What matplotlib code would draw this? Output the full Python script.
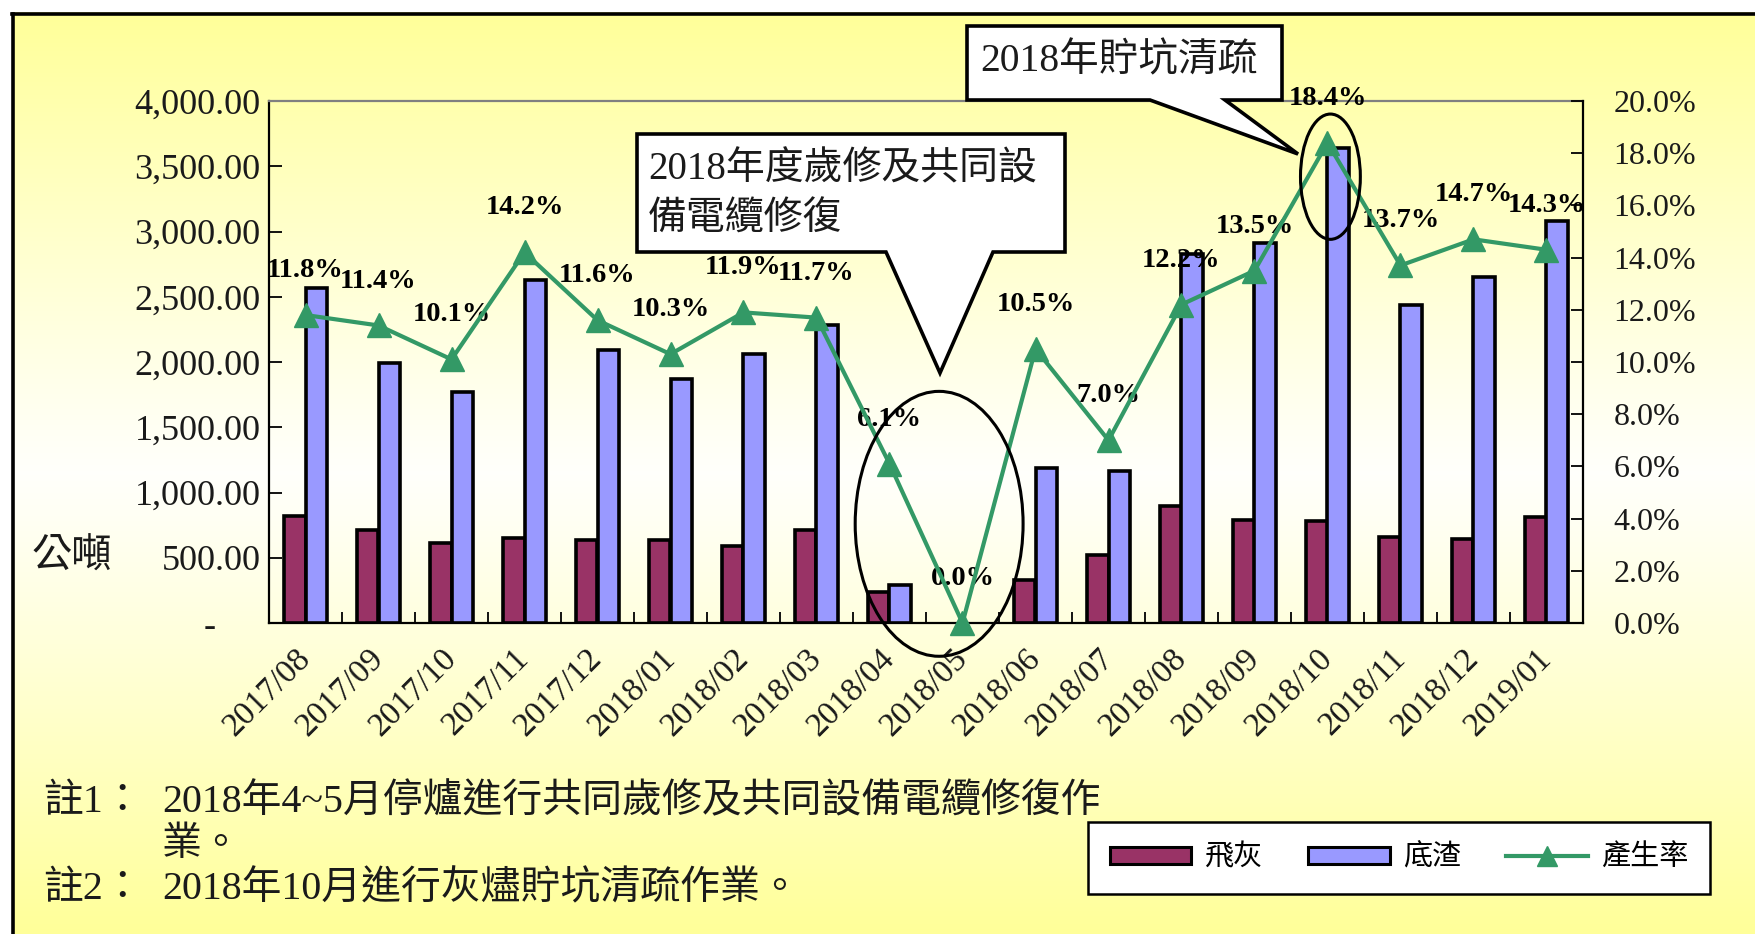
import matplotlib
matplotlib.use("Agg")
import matplotlib.pyplot as plt
import numpy as np
from matplotlib.patches import Polygon, Ellipse, Patch
from matplotlib.lines import Line2D
from matplotlib.ticker import FixedLocator, FuncFormatter

plt.rcParams['font.family'] = ['Liberation Serif', 'Noto Sans CJK TC']

# ---------------- data ----------------
months = ["2017/08", "2017/09", "2017/10", "2017/11", "2017/12", "2018/01",
          "2018/02", "2018/03", "2018/04", "2018/05", "2018/06", "2018/07",
          "2018/08", "2018/09", "2018/10", "2018/11", "2018/12", "2019/01"]
fly_ash = [817, 714, 611, 652, 639, 639, 593, 714, 237, 0,
           332, 523, 893, 791, 778, 658, 643, 816]
bottom_ash = [2567, 1992, 1769, 2626, 2095, 1872, 2060, 2283, 294, 0,
              1189, 1161, 2824, 2909, 3638, 2438, 2652, 3081]
rate = [11.8, 11.4, 10.1, 14.2, 11.6, 10.3, 11.9, 11.7, 6.1, 0.0,
        10.5, 7.0, 12.2, 13.5, 18.4, 13.7, 14.7, 14.3]
legend_labels = ["飛灰", "底渣", "產生率"]
unit_label = "公噸"
callout1 = "2018年度歲修及共同設\n備電纜修復"
callout2 = "2018年貯坑清疏"
note1_head = "註1："
note1_body = "2018年4~5月停爐進行共同歲修及共同設備電纜修復作"
note1_cont = "業。"
note2_head = "註2："
note2_body = "2018年10月進行灰燼貯坑清疏作業。"

W, H = 1756, 934
C_FLY = "#993366"
C_BOT = "#9999FF"
C_RATE = "#339966"

fig = plt.figure(figsize=(W / 100, H / 100), dpi=100)
fig.patch.set_facecolor("white")


def fx(px):
    return px / W


def fy(py):
    return 1 - py / H


# ---------------- gradient background ----------------
bg = fig.add_axes([fx(12), 0, 1 - fx(12), fy(12)], zorder=-10)
yy = np.linspace(0, 1, 400)[:, None]
t = np.abs(yy - 0.50) / 0.50
t = np.clip(t, 0, 1) ** 1.1
top = np.array([1.0, 1.0, 0.60])
mid = np.array([1.0, 1.0, 0.985])
img = mid[None, None, :] * (1 - t[..., None]) + top[None, None, :] * t[..., None]
img = np.repeat(img, 2, axis=1)
bg.imshow(img, aspect="auto", extent=[0, 1, 0, 1])
bg.set_axis_off()
fig.add_artist(Line2D([fx(13.5), fx(13.5)], [0, fy(13.5)], color="black", lw=2.6,
                      transform=fig.transFigure))
fig.add_artist(Line2D([fx(12), 1], [fy(13.5), fy(13.5)], color="black", lw=2.6,
                      transform=fig.transFigure))

# ---------------- main axes ----------------
ax = fig.add_axes([fx(269), fy(623), fx(1583) - fx(269), fy(101) - fy(623)])
ax.set_facecolor("none")
x = np.arange(len(months))
bw = 0.3
fly_edges = ["black" if v > 0 else "none" for v in fly_ash]
bot_edges = ["black" if v > 0 else "none" for v in bottom_ash]
ax.bar(x - bw / 2, fly_ash, bw, color=C_FLY, edgecolor=fly_edges, linewidth=2.6, zorder=3)
ax.bar(x + bw / 2, bottom_ash, bw, color=C_BOT, edgecolor=bot_edges, linewidth=2.6, zorder=3)
ax.set_xlim(-0.5, len(months) - 0.5)
ax.set_ylim(0, 4000)
ax.yaxis.set_major_locator(FixedLocator(np.arange(0, 4001, 500)))
ax.yaxis.set_major_formatter(FuncFormatter(lambda v, p: "-     " if v == 0 else f"{v:,.2f}"))
ax.tick_params(axis="y", direction="in", length=9, width=1.3, labelsize=26, pad=6,
               colors="black", labelcolor="#1a1a1a")
ax.set_xticks(x)
ax.set_xticklabels(months)
ax.set_xticks(np.arange(-0.5, len(months), 1), minor=True)
ax.tick_params(axis="x", which="major", length=0, labelsize=24, pad=22,
               labelcolor="#1a1a1a")
ax.tick_params(axis="x", which="minor", direction="in", length=8, width=1.3)
for lbl in ax.get_xticklabels():
    lbl.set_rotation(45)
    lbl.set_ha("right")
    lbl.set_va("center")
    lbl.set_rotation_mode("anchor")
for s in ["left", "bottom"]:
    ax.spines[s].set_color("black")
    ax.spines[s].set_linewidth(1.6)
ax.spines["top"].set_color("#808080")
ax.spines["top"].set_linewidth(1.6)
ax.spines["right"].set_visible(False)

# ---------------- rate axis ----------------
ax2 = ax.twinx()
ax2.set_ylim(0, 20)
ax2.yaxis.set_major_locator(FixedLocator(np.arange(0, 20.1, 2)))
ax2.yaxis.set_major_formatter(FuncFormatter(lambda v, p: f"{v:.1f}%"))
ax2.tick_params(axis="y", direction="in", length=9, width=1.3, labelsize=23, pad=22,
                labelcolor="#1a1a1a")
ax2.spines["right"].set_color("black")
ax2.spines["right"].set_linewidth(1.6)
for s in ["left", "top", "bottom"]:
    ax2.spines[s].set_visible(False)
ax2.plot(x, rate, color=C_RATE, lw=3, marker="^", markersize=17, zorder=5, clip_on=False)
for xi, v in zip(x, rate):
    ax2.annotate(f"{v:.1f}%", (xi, v), xytext=(0, 32), textcoords="offset points",
                 ha="center", va="center", fontsize=20.5, fontweight="bold",
                 color="black", annotation_clip=False)

# ellipses highlighting events
ax2.add_patch(Ellipse((8.68, 3.8), 2.3, 10.15, fill=False, edgecolor="black", lw=2.2,
                      clip_on=False, zorder=6))
ax2.add_patch(Ellipse((14.04, 17.1), 0.82, 4.8, fill=False, edgecolor="black", lw=2.2,
                      clip_on=False, zorder=6))

# ---------------- callouts ----------------
def callout(pts, text, tx, ty, size):
    poly = Polygon([(fx(px), fy(py)) for px, py in pts], closed=True,
                   facecolor="white", edgecolor="black", lw=2.6,
                   transform=fig.transFigure, zorder=20)
    fig.add_artist(poly)
    fig.text(fx(tx), fy(ty), text, fontsize=size, ha="left", va="center",
             linespacing=1.45, zorder=21, color="#1a1a1a")


callout([(637, 134), (1065, 134), (1065, 252), (993, 252), (940, 373),
         (886, 252), (637, 252)], callout1, 648, 195, 28)
callout([(967, 26), (1282, 26), (1282, 100), (1225, 100), (1298, 154),
         (1150, 100), (967, 100)], callout2, 980, 62, 28.5)

# ---------------- unit label ----------------
fig.text(fx(72), fy(558), unit_label, fontsize=29, ha="center", va="center", color="#1a1a1a")

# ---------------- notes ----------------
NS = 28.7
fig.text(fx(43), fy(803), note1_head, fontsize=NS, ha="left", va="center", color="#1a1a1a")
fig.text(fx(162), fy(803), note1_body, fontsize=NS, ha="left", va="center", color="#1a1a1a")
fig.text(fx(162), fy(845), note1_cont, fontsize=NS, ha="left", va="center", color="#1a1a1a")
fig.text(fx(43), fy(890), note2_head, fontsize=NS, ha="left", va="center", color="#1a1a1a")
fig.text(fx(162), fy(890), note2_body, fontsize=NS, ha="left", va="center", color="#1a1a1a")

# ---------------- legend ----------------
handles = [Patch(facecolor=C_FLY, edgecolor="black", lw=2.2),
           Patch(facecolor=C_BOT, edgecolor="black", lw=2.2),
           Line2D([], [], color=C_RATE, lw=3, marker="^", markersize=15)]
leg = fig.legend(handles, legend_labels, loc="center",
                 bbox_to_anchor=(fx(1399), fy(858)), ncol=3, fontsize=21,
                 frameon=True, fancybox=False, edgecolor="black", framealpha=1,
                 handlelength=2.8, handleheight=0.55, handletextpad=0.45,
                 columnspacing=1.55, borderpad=0.75)
leg.get_frame().set_linewidth(1.8)

fig.savefig("out.png", dpi=100)
